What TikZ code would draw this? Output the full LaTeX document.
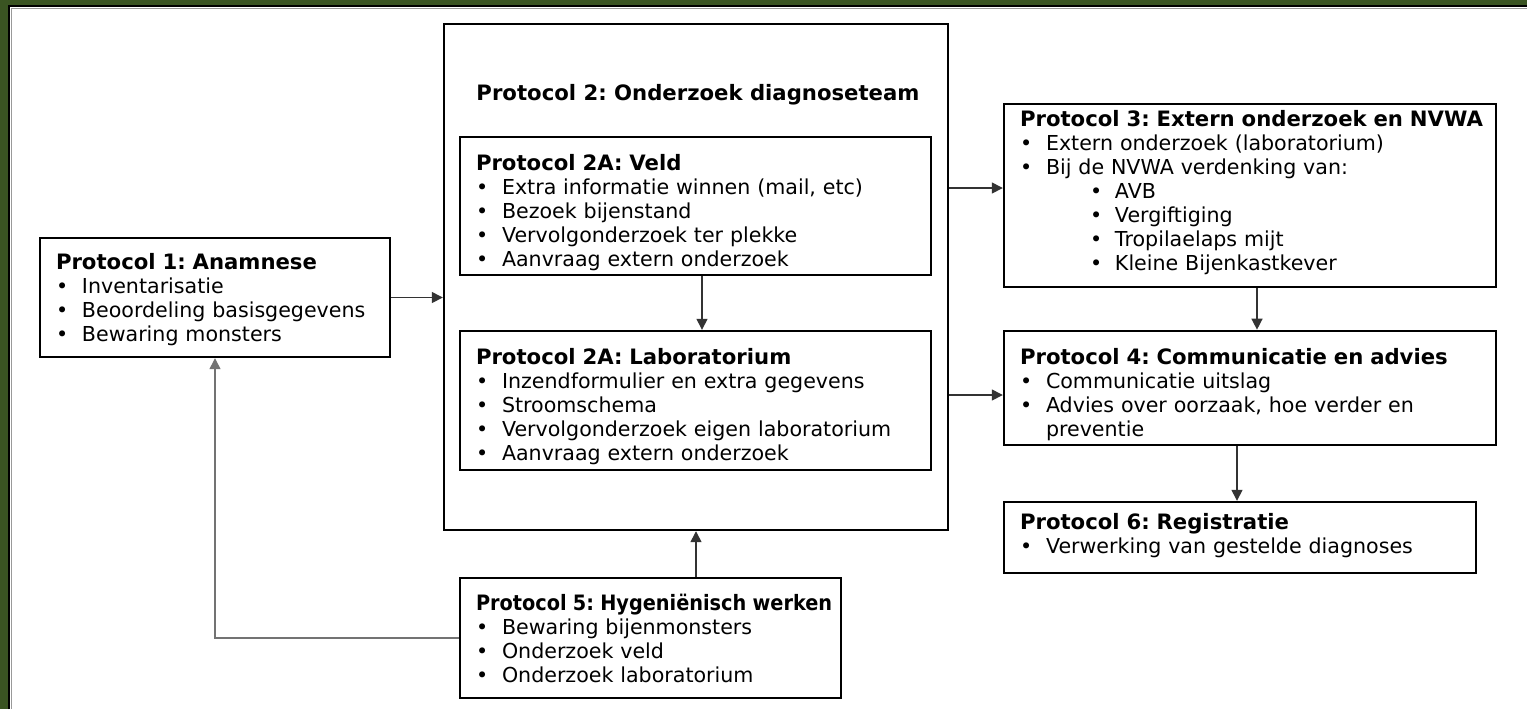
\documentclass[tikz,border=0pt]{standalone}
\usepackage{fontspec}
\setmainfont{DejaVu Sans}
\usetikzlibrary{arrows.meta,positioning}
\definecolor{framegreen}{RGB}{58,84,34}
\frenchspacing
% bullet lines
\newcommand{\itm}[1]{\makebox[13pt][l]{\textbullet}#1}
\newcommand{\subitm}[1]{\hspace*{35pt}\makebox[12.5pt][l]{\textbullet}#1}
\newcommand{\ttl}[2][1]{\mbox{\scalebox{#1}[1]{\fontsize{10.6}{12}\selectfont\bfseries #2}}}
\begin{document}
\begin{tikzpicture}[x=0.5pt,y=-0.5pt,
box/.style={
% The shape:
rectangle,
draw=black,
line width=1.2pt,
inner xsep=8pt,
inner ysep=2pt,
align=left,
font=\fontsize{10.3}{12}\selectfont
},
push/.style={execute at begin node={\rule{0pt}{#1}}},
lift/.style={execute at end node={\rule[-#1]{0pt}{#1}}},
arr/.style={-{Triangle[length=5.5pt,width=5.5pt]},line width=0.7pt,draw=black!80},
back/.style={-{Triangle[length=5.5pt,width=5.5pt]},line width=0.7pt,draw=black!55}
]
\useasboundingbox (0,0) rectangle (1527,709);
\fill[white] (0,0) rectangle (1527,709);
% frame (left and top only)
\fill[framegreen] (0,0) rectangle (1527,5);
\fill[framegreen] (0,0) rectangle (8,709);
\draw[line width=1pt] (9,709) -- (9,6) -- (1527,6);
\draw[line width=0.6pt,black!40] (11.5,709) -- (11.5,8.5) -- (1527,8.5);

\node (p1) [box,push=10.5pt,minimum width=175pt,minimum height=59.5pt,text width=159pt] at (215,297.5)
{\ttl{Protocol 1: Anamnese}\\
\itm{Inventarisatie}\\
\itm{Beoordeling basisgegevens}\\
\itm{Bewaring monsters}};

\node (p2) [box,minimum width=252pt,minimum height=253pt] at (696,277) {};
\node (p2title) at (698,95) {\ttl{Protocol 2: Onderzoek diagnoseteam}};

\node (veld) [box,push=14.5pt,minimum width=235.5pt,minimum height=69pt,text width=219.5pt] at (695.5,206)
{\ttl{Protocol 2A: Veld}\\
\itm{Extra informatie winnen (mail, etc)}\\
\itm{Bezoek bijenstand}\\
\itm{Vervolgonderzoek ter plekke}\\
\itm{Aanvraag extern onderzoek}};

\node (lab) [box,push=14pt,minimum width=235.5pt,minimum height=69.5pt,text width=219.5pt] at (695.5,400.5)
{\ttl{Protocol 2A: Laboratorium}\\
\itm{Inzendformulier en extra gegevens}\\
\itm{Stroomschema}\\
\itm{Vervolgonderzoek eigen laboratorium}\\
\itm{Aanvraag extern onderzoek}};

\node (p3) [box,lift=5pt,minimum width=246pt,minimum height=91.5pt,text width=230pt] at (1250,195.5)
{\ttl{Protocol 3: Extern onderzoek en NVWA}\\
\itm{Extern onderzoek (laboratorium)}\\
\itm{Bij de NVWA verdenking van:}\\
\subitm{AVB}\\
\subitm{Vergiftiging}\\
\subitm{Tropilaelaps mijt}\\
\subitm{Kleine Bijenkastkever}};

\node (p4) [box,push=15pt,minimum width=246pt,minimum height=55pt,text width=230pt] at (1250,388)
{\ttl{Protocol 4: Communicatie en advies}\\
\itm{Communicatie uitslag}\\
\itm{Advies over oorzaak, hoe verder en}\\
\hspace*{13pt}preventie};

\node (p6) [box,lift=4pt,minimum width=236pt,minimum height=35.5pt,text width=220pt] at (1240,537.5)
{\ttl{Protocol 6: Registratie}\\
\itm{Verwerking van gestelde diagnoses}};

\node (p5) [box,minimum width=190.5pt,minimum height=60pt,text width=174.5pt] at (650.5,638)
{\ttl[0.91]{Protocol 5: Hygeniënisch werken}\\
\itm{Bewaring bijenmonsters}\\
\itm{Onderzoek veld}\\
\itm{Onderzoek laboratorium}};

\draw [arr] (p1.east) -- (p1.east -| p2.west);
\draw [arr] ([yshift=3.75pt]p3.west -| p2.east) -- ([yshift=3.75pt]p3.west);
\draw [arr] ([yshift=-3.5pt]p4.west -| p2.east) -- ([yshift=-3.5pt]p4.west);
\draw [arr] ([xshift=3.25pt]veld.south) -- ([xshift=3.25pt]veld.south |- lab.north);
\draw [arr] ([xshift=3.5pt]p3.south) -- ([xshift=3.5pt]p3.south |- p4.north);
\draw [arr] ([xshift=-6.5pt]p4.south) -- ([xshift=-6.5pt]p4.south |- p6.north);
\draw [arr] ([xshift=22.75pt]p5.north) -- ([xshift=22.75pt]p5.north |- p2.south);
\draw [back] (p5.west) -| (p1.south);
\end{tikzpicture}
\end{document}
